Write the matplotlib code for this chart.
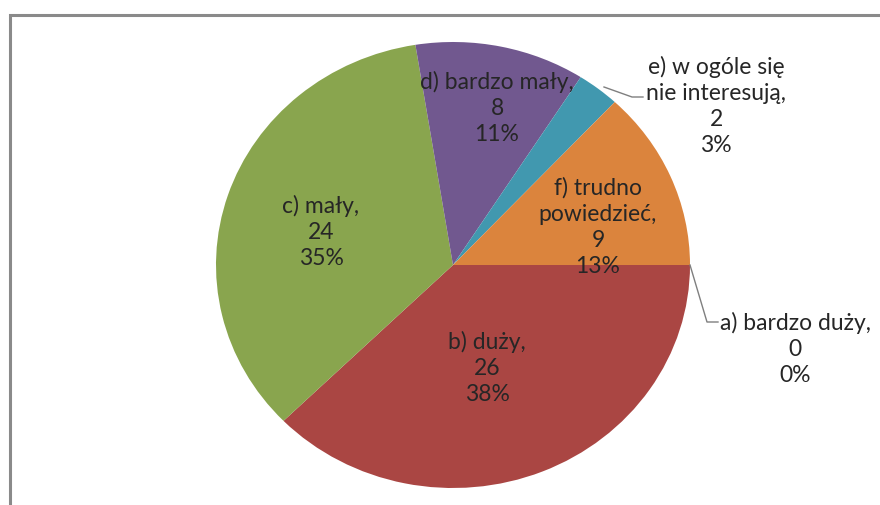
import matplotlib
matplotlib.use("Agg")
import matplotlib.pyplot as plt
from matplotlib.patches import Rectangle

plt.rcParams["font.family"] = ["Lato", "DejaVu Sans"]

# data
labels = ["a) bardzo duży,", "b) duży,", "c) mały,", "d) bardzo mały,",
          "e) w ogóle się\nnie interesują,", "f) trudno\npowiedzieć,"]
counts = [0, 26, 24, 8, 2, 9]
percents = ["0%", "38%", "35%", "11%", "3%", "13%"]
colors = ["#4F81BD", "#AA4643", "#89A54E", "#71588F", "#4198AF", "#DB843D"]

fig = plt.figure(figsize=(8.8, 5.05), dpi=100)
W, H = 880, 505

# chart frame (runs off the right and bottom edges)
fig.patches.append(Rectangle((10 / W, -0.1), 1.2, 1.1 - 15 / H, transform=fig.transFigure,
                             fill=False, edgecolor="#8a8a8a", lw=2.2))

# pie: centre (453, 265) px, radii 237 x 223 px
cx, cy, rx, ry = 453, 265, 237, 223
ax = fig.add_axes([(cx - rx) / W, 1 - (cy + ry) / H, 2 * rx / W, 2 * ry / H])
ax.pie(counts, colors=colors, startangle=0, counterclock=False,
       wedgeprops=dict(linewidth=0))
ax.set_aspect("auto")
ax.set_xlim(-1, 1)
ax.set_ylim(-1, 1)
ax.axis("off")


def px(x, y):
    return (x - cx) / rx, (cy - y) / ry


txt = dict(ha="center", va="center", fontsize=16.5, color="#262626", linespacing=1.3)
pos = [(795, 349), (487, 368), (321, 232), (497, 108), (716, 106), (598, 227)]
for lab, n, p, (x, y) in zip(labels, counts, percents, pos):
    ax.text(*px(x, y), f"{lab}\n{n}\n{p}", clip_on=False, **txt)

# leader lines
lx, ly = zip(*[px(690, 265), px(707, 322), px(718, 322)])
ax.plot(lx, ly, color="#7f7f7f", lw=1, clip_on=False)
lx, ly = zip(*[px(604, 87), px(632, 97), px(643, 97)])
ax.plot(lx, ly, color="#7f7f7f", lw=1, clip_on=False)

fig.savefig("out.png", dpi=100)
